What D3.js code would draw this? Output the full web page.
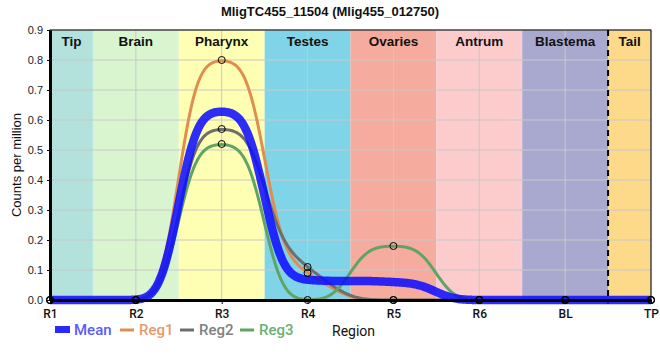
<!DOCTYPE html>
<html>
<head>
<meta charset="utf-8">
<script src="https://cdn.jsdelivr.net/npm/d3@7"></script>
<style>
  html, body { margin: 0; padding: 0; background: #fff; }
  svg { display: block; }
</style>
</head>
<body>
<svg id="chart" width="660" height="360"></svg>
<script>
// ---- data ----
const categories = ["R1", "R2", "R3", "R4", "R5", "R6", "BL", "TP"];
const reg1 = [0, 0, 0.80, 0.09, 0, 0, 0, 0];
const reg2 = [0, 0, 0.57, 0.11, 0, 0, 0, 0];
const reg3 = [0, 0, 0.52, 0, 0.18, 0, 0, 0];
const meanValues = categories.map((c, i) => (reg1[i] + reg2[i] + reg3[i]) / 3);
const regionNames = ["Tip", "Brain", "Pharynx", "Testes", "Ovaries", "Antrum", "Blastema", "Tail"];
const yTicks = [0, 0.1, 0.2, 0.3, 0.4, 0.5, 0.6, 0.7, 0.8, 0.9];
const titleText = "MligTC455_11504 (Mlig455_012750)";

// ---- styles ----
const regionColors = ["#b3e2dd", "#d9f5d0", "#ffffb3", "#80d4e8", "#f5ab9d", "#fccccc", "#a9a9cf", "#fdd98a"];
const seriesDefs = [
  { name: "Reg1", values: reg1, color: "#e08e50", text: "#e89a68" },
  { name: "Reg2", values: reg2, color: "#6e6e6e", text: "#808080" },
  { name: "Reg3", values: reg3, color: "#5fa463", text: "#6bb070" }
];

// ---- smoothed region profile (gaussian-smoothed piecewise ramps) ----
function smoothProfile(vals) {
  const n = vals.length;
  const k = vals.map((v, i) => {
    if (i === 0 || i === n - 1) return 0;
    const s0 = v - vals[i - 1], s1 = vals[i + 1] - v;
    if (s0 * s1 <= 0) return 0;
    const p = (s0 + s1) / 2;
    return Math.sign(s0) * 2 * Math.min(Math.abs(s0), Math.abs(s1), 0.5 * Math.abs(p));
  });
  const u = pos => {
    const i = Math.max(0, Math.min(n - 1, Math.round(pos)));
    return Math.max(0, vals[i] + k[i] * (pos - i));
  };
  const step = 0.01, sig = 0.175, half = Math.ceil(3.5 * sig / step);
  const kern = d3.range(-half, half + 1).map(j => Math.exp(-0.5 * Math.pow(j * step / sig, 2)));
  const ksum = d3.sum(kern);
  const out = [];
  const m = Math.round((n - 1) / step);
  for (let q = 0; q <= m; q++) {
    const pos = q * step;
    let s = 0;
    for (let j = -half; j <= half; j++) s += kern[j + half] * u(pos + j * step);
    out.push({ pos, val: s / ksum });
  }
  return out;
}

const svg = d3.select("#chart");
const pLeft = 50, pRight = 651, pTop = 30, pBottom = 300;

const x = d3.scalePoint().domain(categories).range([pLeft, pRight]);
const y = d3.scaleLinear().domain([0, 0.9]).range([pBottom, pTop]);
const posScale = d3.scaleLinear().domain([0, categories.length - 1]).range([x(categories[0]), x(categories[categories.length - 1])]);

// region bands
const xs = categories.map(c => x(c));
const bounds = [xs[0]];
for (let i = 0; i < xs.length - 1; i++) bounds.push((xs[i] + xs[i + 1]) / 2);
bounds.push(xs[xs.length - 1]);

const plot = svg.append("g");
plot.selectAll("rect.band").data(regionNames).join("rect")
  .attr("class", "band")
  .attr("x", (d, i) => bounds[i])
  .attr("y", pTop)
  .attr("width", (d, i) => bounds[i + 1] - bounds[i])
  .attr("height", pBottom - pTop)
  .attr("fill", (d, i) => regionColors[i]);

// grid
plot.selectAll("line.hg").data(yTicks.slice(1)).join("line")
  .attr("class", "hg")
  .attr("x1", pLeft).attr("x2", pRight)
  .attr("y1", d => y(d)).attr("y2", d => y(d))
  .attr("stroke", "#c8c8c8").attr("stroke-width", 1);
plot.selectAll("line.vg").data(categories).join("line")
  .attr("class", "vg")
  .attr("x1", d => x(d)).attr("x2", d => x(d))
  .attr("y1", pTop).attr("y2", pBottom)
  .attr("stroke", "#c8c8c8").attr("stroke-width", 1);

// dashed separator before Tail
plot.append("line")
  .attr("x1", bounds[7]).attr("x2", bounds[7])
  .attr("y1", pTop).attr("y2", pBottom + 4)
  .attr("stroke", "#000").attr("stroke-width", 2).attr("stroke-dasharray", "6,4");

// region labels
plot.selectAll("text.region").data(regionNames).join("text")
  .attr("class", "region")
  .attr("x", (d, i) => (bounds[i] + bounds[i + 1]) / 2)
  .attr("y", 46)
  .attr("text-anchor", "middle")
  .attr("font-family", "Liberation Sans, Arial, sans-serif")
  .attr("font-weight", "bold")
  .attr("font-size", 13.5)
  .attr("fill", "#111")
  .text(d => d);

// lines
const line = d3.line().x(d => posScale(d.pos)).y(d => y(d.val));
seriesDefs.forEach(s => {
  plot.append("path").datum(smoothProfile(s.values))
    .attr("d", line).attr("fill", "none")
    .attr("stroke", s.color).attr("stroke-width", 3);
});
plot.append("path").datum(smoothProfile(meanValues))
  .attr("d", line).attr("fill", "none")
  .attr("stroke", "#1010ff").attr("stroke-opacity", 0.88).attr("stroke-width", 8.5);

// frame
svg.append("rect").attr("x", pLeft).attr("y", pTop).attr("width", pRight - pLeft).attr("height", pBottom - pTop)
  .attr("fill", "none").attr("stroke", "#000").attr("stroke-width", 1);

// axes
const yAxis = svg.append("g").attr("transform", `translate(${pLeft},0)`)
  .call(d3.axisLeft(y).tickValues(yTicks).tickFormat(d3.format(".1f")).tickSize(3).tickSizeOuter(0));
yAxis.select(".domain").attr("stroke-width", 3);
yAxis.selectAll("text").attr("font-family", "Liberation Sans, Arial, sans-serif").attr("font-size", 11).attr("fill", "#222").attr("dx", "-1");

const xAxis = svg.append("g").attr("transform", `translate(0,${pBottom})`)
  .call(d3.axisBottom(x).tickSize(4).tickSizeOuter(0));
xAxis.select(".domain").attr("stroke-width", 3);
xAxis.selectAll("text").attr("font-family", "Roboto, sans-serif").attr("font-weight", 500)
  .attr("font-size", 12).attr("fill", "#111").attr("dy", "0.9em");

// markers
seriesDefs.forEach(s => {
  svg.append("g").selectAll("circle").data(s.values).join("circle")
    .attr("cx", (d, i) => xs[i]).attr("cy", d => y(d)).attr("r", 3.5)
    .attr("fill", "none").attr("stroke", "#000").attr("stroke-width", 1);
});

// title
svg.append("text").attr("x", 330).attr("y", 16).attr("text-anchor", "middle")
  .attr("font-family", "Liberation Sans, Arial, sans-serif").attr("font-weight", "bold")
  .attr("font-size", 13).attr("fill", "#111").text(titleText);

// y title
svg.append("text").attr("transform", `translate(21,${(pTop + pBottom) / 2}) rotate(-90)`)
  .attr("text-anchor", "middle")
  .attr("font-family", "Liberation Sans, Arial, sans-serif").attr("font-size", 13).attr("fill", "#111")
  .text("Counts per million");

// legend
const lg = svg.append("g").attr("font-family", "Roboto, sans-serif").attr("font-weight", 500).attr("font-size", 15);
lg.append("rect").attr("x", 55).attr("y", 326).attr("width", 15).attr("height", 7).attr("fill", "#2a2aff");
lg.append("text").attr("x", 74).attr("y", 335).attr("fill", "#5a5aff").text("Mean");
const legX = [120, 180, 240];
seriesDefs.forEach((s, i) => {
  lg.append("line").attr("x1", legX[i]).attr("x2", legX[i] + 14).attr("y1", 330).attr("y2", 330)
    .attr("stroke", s.color).attr("stroke-width", 3);
  lg.append("text").attr("x", legX[i] + 19).attr("y", 335).attr("fill", s.text).text(s.name);
});
svg.append("text").attr("x", 332).attr("y", 336)
  .attr("font-family", "Roboto, sans-serif").attr("font-size", 14).attr("fill", "#111").text("Region");
</script>
</body>
</html>
